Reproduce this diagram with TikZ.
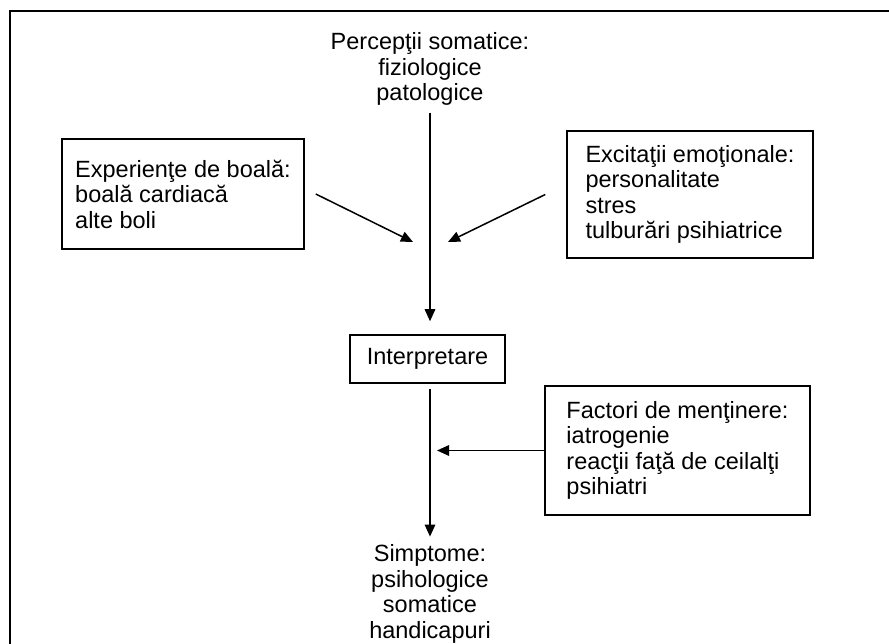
\documentclass[tikz,border=0pt]{standalone}
\usepackage{fontspec}
\setmainfont{Liberation Sans}
\usetikzlibrary{arrows.meta}
\begin{document}
\begin{tikzpicture}[x=1pt,y=-1pt,
  every node/.style={font=\fontsize{23.5}{25.5}\selectfont},
  box/.style={draw, line width=1.5pt, align=left, inner sep=0pt},
  caption/.style={align=center, inner sep=0pt},
  arr/.style={line width=1.5pt, -{Triangle[length=12pt,width=10.5pt]}}]
\useasboundingbox (0,0) rectangle (889,644);
% outer frame
\draw[line width=2.4pt] (10,11) rectangle (930,690);

% nodes
\node[caption] (percep) at (430,69) {Percepţii somatice:\\fiziologice\\patologice};
\node[box, minimum width=242pt, minimum height=110pt] (exp) at (183,194)
  {Experienţe de boală:\\boală cardiacă\\alte boli};
\node[box, minimum width=246pt, minimum height=127pt] (exc) at (690,194.5)
  {Excitaţii emoţionale:\\personalitate\\stres\\tulburări psihiatrice};
\node[box, minimum width=155pt, minimum height=48pt, align=center] (interp) at (427.5,359)
  {Interpretare};
\node[box, minimum width=265pt, minimum height=129pt] (fac) at (677.5,450.5)
  {Factori de menţinere:\\iatrogenie\\reacţii faţă de ceilalţi\\psihiatri};
\node[caption] (simpt) at (430,594) {Simptome:\\psihologice\\somatice\\handicapuri};

% free arrow ends
\coordinate (t1) at (413,242);
\coordinate (t2) at (448,242);
\coordinate (t3) at (437,450.5);

% connectors
\draw[arr, shorten <=7pt, shorten >=13pt] (percep.south) -- (percep.south |- interp.north);
\draw[arr, shorten <=5pt, shorten >=8pt] (interp.south -| simpt.north) -- (simpt.north);
\draw[arr] ([xshift=11pt]exp.east) -- (t1);
\draw[arr] ([xshift=-21pt]exc.west) -- (t2);
\draw[arr] (fac.west) -- (t3);
\end{tikzpicture}
\end{document}
